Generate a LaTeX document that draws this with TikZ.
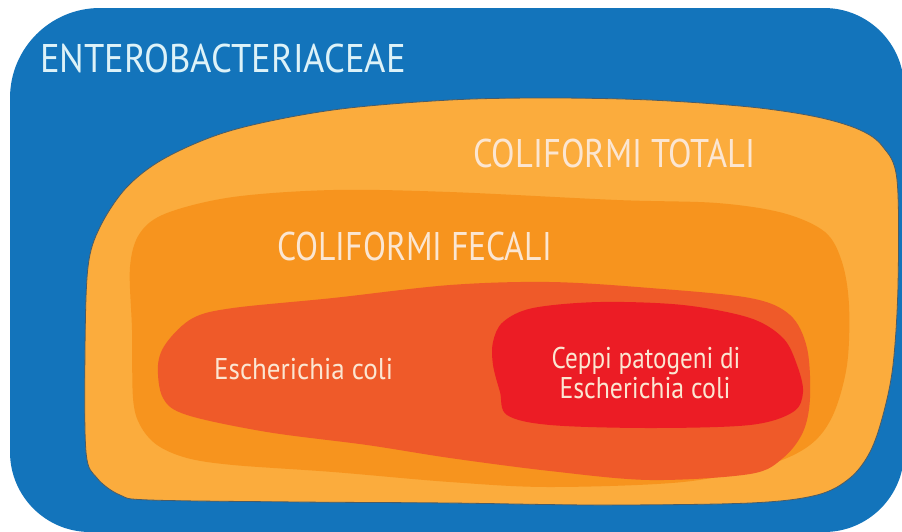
\documentclass[tikz,border=0pt]{standalone}
\usepackage{fontspec}
\newfontfamily\labfont[FakeStretch=0.86]{PT Sans}
\newfontfamily\labwide[FakeStretch=0.915]{PT Sans}
\newfontfamily\labnarrow[FakeStretch=0.84]{PT Sans}
\newfontfamily\labsmall[FakeStretch=0.9]{PT Sans}
\definecolor{bgblue}{HTML}{1374BB}
\definecolor{totcol}{HTML}{FBAC3D}
\definecolor{feccol}{HTML}{F7941E}
\definecolor{colicol}{HTML}{EF5A29}
\definecolor{patcol}{HTML}{EC1C25}
\definecolor{bluetext}{HTML}{DDF2F8}
\definecolor{warmtext}{HTML}{FBE6D2}
\definecolor{edgecol}{HTML}{4A5C66}
\begin{document}
\begin{tikzpicture}[x=1pt,y=-1pt,
  blob/.style={line join=round},
  biglab/.style={inner sep=0pt, font=\labfont\fontsize{40}{44}\selectfont},
  smalllab/.style={inner sep=0pt, font=\labfont\fontsize{30}{34}\selectfont, text=warmtext}]
\useasboundingbox (0,0) rectangle (902,531);
\fill[white] (0,0) rectangle (902,531);
\begin{scope}
\clip (0,0) rectangle (902,531);
% blue background
\fill[bgblue] (10,98) .. controls (10,48.3) and (50.3,8) .. (100,8)
  -- (824,8) .. controls (868.2,8) and (904,43.8) .. (904,88)
  -- (904,452) .. controls (904,496.2) and (868.2,532) .. (824,532)
  -- (90,532) .. controls (45.8,532) and (10,496.2) .. (10,452) -- cycle;
% coliformi totali
\filldraw[blob, fill=totcol, draw=edgecol, line width=0.8pt]
  plot[smooth cycle, tension=0.55] coordinates {
  (88,267) (100,227) (127,187) (167,157) (233,130) (333,110) (450,100)
  (550,98) (650,100) (750,107) (817,117) (860,130) (883,147) (897,180)
  (898,285) (893,365) (883,415) (870,452) (850,478) (817,495) (750,503)
  (600,505) (450,503) (300,502) (150,500) (120,495) (97,478) (86,452) (85,350)};
% coliformi fecali
\fill[blob, feccol]
  plot[smooth cycle, tension=0.55] coordinates {
  (130,267) (140,233) (167,213) (233,197) (333,190) (450,192) (617,200)
  (717,203) (783,213) (825,232) (842,262) (849,305) (847,365) (833,415)
  (810,445) (767,465) (683,482) (550,487) (450,482) (333,472) (233,465)
  (187,458) (157,445) (140,425) (133,398) (132,330)};
% escherichia coli
\fill[blob, colicol]
  plot[smooth cycle, tension=0.55] coordinates {
  (158,365) (167,342) (193,318) (233,308) (333,298) (450,285) (550,282)
  (650,288) (750,298) (790,315) (807,348) (810,398) (803,432) (783,458)
  (750,474) (650,480) (550,471) (450,458) (367,445) (267,432) (187,415)
  (163,398)};
% ceppi patogeni
\fill[blob, patcol]
  plot[smooth cycle, tension=0.55] coordinates {
  (493,342) (503,322) (533,308) (600,302) (683,305) (750,318) (783,338)
  (797,365) (803,392) (793,412) (750,425) (650,428) (550,425) (507,415)
  (500,392) (493,365)};
\end{scope}
% labels
\node[biglab, font=\labwide\fontsize{40}{44}\selectfont, text=bluetext, anchor=base west] (entero) at (40,72) {ENTEROBACTERIACEAE};
\node[biglab, text=warmtext, anchor=base west] (totali) at (473,167) {COLIFORMI TOTALI};
\node[biglab, font=\labnarrow\fontsize{40}{44}\selectfont, text=warmtext, anchor=base west] (fecali) at (277,260) {COLIFORMI FECALI};
\node[smalllab, font=\labsmall\fontsize{30}{34}\selectfont, anchor=base west] (ecoli) at (214,379) {Escherichia coli};
\node[smalllab, font=\labnarrow\fontsize{30}{34}\selectfont, anchor=base] (ceppi1) at (646,368) {Ceppi patogeni di};
\node[smalllab, anchor=base] (ceppi2) at (645,398) {Escherichia coli};
\end{tikzpicture}
\end{document}
